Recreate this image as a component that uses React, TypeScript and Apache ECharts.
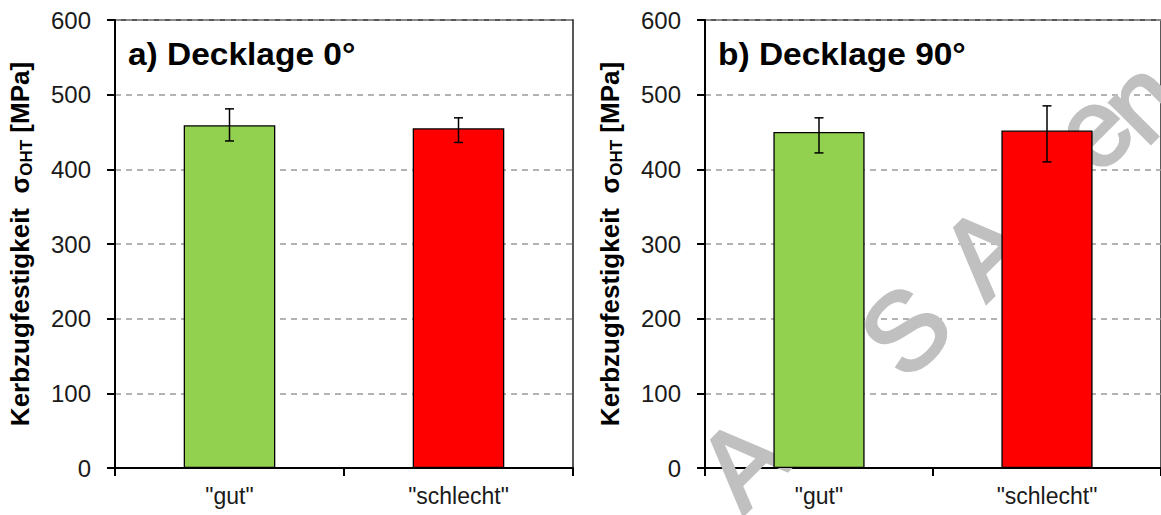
import React, { useEffect, useRef } from "react";
import * as echarts from "echarts";

const categories = ['"gut"', '"schlecht"'];
const yTicks = [0, 100, 200, 300, 400, 500, 600];

// Panel a) Decklage 0°
const meanA = [459, 455];
const upperA = [481, 469];
const lowerA = [438, 436];

// Panel b) Decklage 90°
const meanB = [450, 452];
const upperB = [469, 485];
const lowerB = [422, 410];

const barColors = ["#92d050", "#ff0000"];
const titles = ["a) Decklage 0°", "b) Decklage 90°"];
const watermark = ["A", "S", "A", "e", "n"];

const FONT = "'Liberation Sans', Arial, sans-serif";

export default function App() {
  const ref = useRef<HTMLDivElement>(null);

  useEffect(() => {
    if (!ref.current) return;
    const chart = echarts.init(ref.current, null, { renderer: "svg" });

    const grids = [
      { left: 115, top: 20, width: 458, height: 448 },
      { left: 705, top: 20, width: 458, height: 448 },
    ];

    const xAxes = grids.map((_, i) => ({
      type: "category",
      gridIndex: i,
      data: categories,
      axisLine: { lineStyle: { color: "#000", width: 2 } },
      axisTick: { show: true, length: 8, inside: false, lineStyle: { color: "#000", width: 2 } },
      axisLabel: { fontSize: 23, color: "#1a1a1a", fontFamily: FONT, margin: 16 },
      splitLine: { show: false },
    }));

    const yAxes = grids.map((_, i) => ({
      type: "value",
      gridIndex: i,
      min: yTicks[0],
      max: yTicks[yTicks.length - 1],
      interval: 100,
      name: "{b|Kerbzugfestigkeit  σ}{s|OHT}{b| [MPa]}",
      nameLocation: "middle",
      nameRotate: 90,
      nameGap: 80,
      nameTextStyle: {
        rich: {
          b: { fontSize: 26, fontWeight: "bold", fontFamily: FONT, color: "#000", lineHeight: 30 },
          s: { fontSize: 17, fontWeight: "bold", fontFamily: FONT, color: "#000", lineHeight: 20, verticalAlign: "bottom" },
        },
      },
      axisLine: { show: true, lineStyle: { color: "#000", width: 2 } },
      axisTick: { show: true, length: 8, inside: false, lineStyle: { color: "#000", width: 2 } },
      axisLabel: { fontSize: 24, color: "#1a1a1a", fontFamily: FONT, margin: 24 },
      splitLine: { show: true, lineStyle: { color: "#9a9a9a", width: 1.5, type: [6, 5] } },
    }));

    const panels = [
      { mean: meanA, upper: upperA, lower: lowerA },
      { mean: meanB, upper: upperB, lower: lowerB },
    ];

    const series: any[] = [];
    panels.forEach((p, i) => {
      series.push({
        type: "bar",
        xAxisIndex: i,
        yAxisIndex: i,
        barWidth: "40%",
        z: 3,
        data: p.mean.map((v, k) => ({
          value: v,
          itemStyle: { color: barColors[k], borderColor: "#000", borderWidth: 1.3 },
        })),
      });
      series.push({
        type: "custom",
        xAxisIndex: i,
        yAxisIndex: i,
        z: 4,
        data: p.mean.map((_, k) => [k, p.lower[k], p.upper[k]]),
        encode: { x: 0, y: [1, 2] },
        renderItem: (params: any, api: any) => {
          const x = api.value(0);
          const lo = api.coord([x, api.value(1)]);
          const hi = api.coord([x, api.value(2)]);
          const hw = 4.5;
          const st = { stroke: "#000", lineWidth: 1.5 };
          return {
            type: "group",
            children: [
              { type: "line", shape: { x1: hi[0], y1: hi[1], x2: lo[0], y2: lo[1] }, style: st },
              { type: "line", shape: { x1: hi[0] - hw, y1: hi[1], x2: hi[0] + hw, y2: hi[1] }, style: st },
              { type: "line", shape: { x1: lo[0] - hw, y1: lo[1], x2: lo[0] + hw, y2: lo[1] }, style: st },
            ],
          };
        },
      });
    });

    const wmPos = [
      [742, 462],
      [905, 330],
      [985, 250],
      [1092, 129],
      [1140, 100],
    ];

    const graphic: any[] = [
      ...watermark.map((ch, k) => ({
        type: "text",
        x: wmPos[k][0],
        y: wmPos[k][1],
        rotation: Math.PI / 4,
        z: 1,
        silent: true,
        style: {
          text: ch,
          fill: "#c0c0c0",
          stroke: "#c0c0c0",
          lineWidth: 3,
          font: `normal 110px ${FONT}`,
          textAlign: "center",
          textVerticalAlign: "middle",
        },
      })),
      ...titles.map((t, i) => ({
        type: "text",
        x: grids[i].left + 13,
        y: 54,
        scaleX: 1.08,
        z: 10,
        style: {
          text: t,
          fill: "#000",
          font: `bold 31px ${FONT}`,
          textAlign: "left",
          textVerticalAlign: "middle",
        },
      })),
    ];

    chart.setOption({
      animation: false,
      backgroundColor: "#ffffff",
      grid: grids.map((g) => ({
        ...g,
        show: true,
        borderColor: "#222",
        borderWidth: 1.5,
        backgroundColor: "transparent",
      })),
      xAxis: xAxes,
      yAxis: yAxes,
      series,
      graphic,
    });

    return () => chart.dispose();
  }, []);

  return (
    <div
      ref={ref}
      style={{ position: "fixed", left: 0, top: 0, width: 1161, height: 515 }}
    />
  );
}
